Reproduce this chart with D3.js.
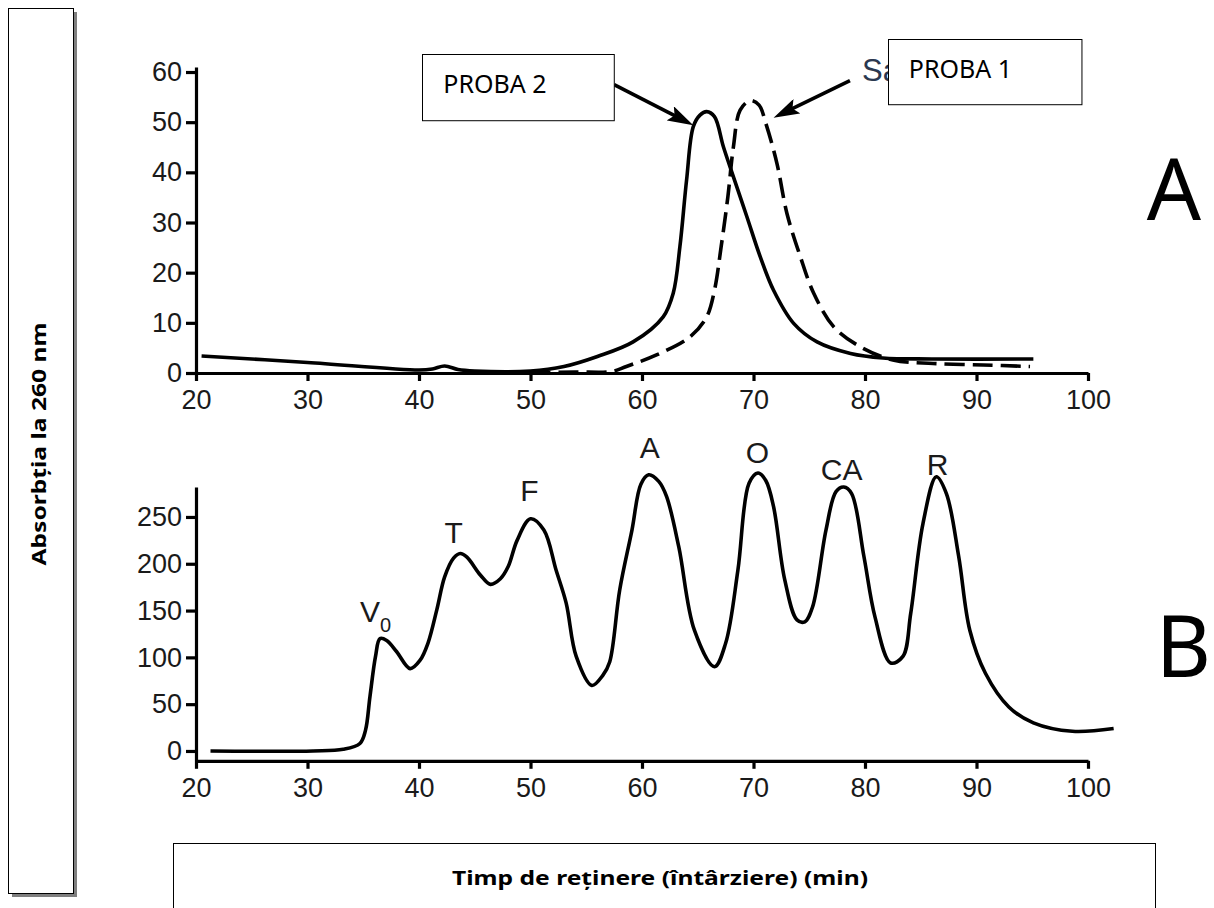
<!DOCTYPE html>
<html lang="ro">
<head>
  <meta charset="UTF-8">
  <title>Absorbția la 260 nm</title>
  <script src="https://d3js.org/d3.v7.min.js"></script>
  <style>
    body {
      margin: 0;
      background: #fff;
    }
    svg {
      display: block;
    }
    .axis path,
    .axis line {
      stroke: #000;
      stroke-width: 3.2px;
    }
    .axis text {
      font-family: "Liberation Sans", Arial, sans-serif;
      font-size: 27px;
      fill: #1a1a1a;
    }
    .curve {
      fill: none;
      stroke: #000;
      stroke-width: 3.6px;
      stroke-linejoin: round;
    }
    .peak {
      font-family: "Liberation Sans", Arial, sans-serif;
      font-size: 30px;
      fill: #1a1a1a;
    }
    .note {
      font-family: "Noto Sans", "Open Sans", sans-serif;
      font-size: 25px;
      fill: #000;
    }
    .title {
      font-family: "Noto Sans", "Open Sans", sans-serif;
      font-weight: bold;
      font-size: 20px;
      fill: #000;
    }
    .panel {
      font-family: "Noto Sans", "Open Sans", sans-serif;
      font-size: 85px;
      fill: #000;
    }
  </style>
</head>
<body>
  <script>
    // ---- data ----
    const xTicks = [20, 30, 40, 50, 60, 70, 80, 90, 100];
    const topYTicks = [0, 10, 20, 30, 40, 50, 60];
    const botYTicks = [0, 50, 100, 150, 200, 250];

    // panel A, solid line (PROBA 2)
    const proba2 = [
      [20.5, 3.4], [30, 2.1], [40, 0.6], [41.2, 0.8], [42.3, 1.4], [43.5, 0.7], [45, 0.4],
      [50, 0.4], [53, 1.3], [56, 3.3], [59.2, 6.2], [61.9, 11.2], [62.8, 15.9], [63.4, 25.2],
      [64, 38.5], [64.6, 49.1], [65.2, 51.4], [65.8, 52.1], [66.5, 51.1], [67.3, 45.1],
      [68.2, 39.1], [69.4, 31.2], [70.6, 23.2], [71.8, 16.5], [73.6, 9.9], [75.7, 6.2],
      [78.7, 3.9], [81.6, 3.0], [86, 2.8], [95.1, 2.8]
    ];

    // panel A, dashed line (PROBA 1)
    const proba1 = [
      [50, 0.1], [54, 0.2], [57.3, 0.3], [58.6, 1.3], [61.3, 3.6], [64.3, 7.2], [65.8, 11.2],
      [66.5, 16.5], [67.1, 25.2], [67.7, 35.1], [68.2, 45.1], [68.8, 52.4], [69.7, 54.3],
      [70.5, 53.4], [71.1, 49.8], [72.1, 41.8], [73, 31.8], [74.2, 23.2], [75.4, 15.9],
      [77.2, 9.2], [79.6, 5.2], [82.5, 2.6], [86.1, 1.9], [90.6, 1.6], [94.8, 1.3]
    ];

    // panel B, single trace
    const fractions = [
      [21.3, 0], [30.5, 0], [33.2, 1.8], [34.7, 8], [35.2, 22], [35.6, 58], [36.1, 101],
      [36.5, 120], [37.1, 118], [38, 106], [39.2, 88], [40.1, 97], [40.8, 115], [41.6, 151],
      [42.3, 186], [43.1, 206], [43.7, 211], [44.3, 207], [45.5, 188], [46.4, 178],
      [47.3, 184], [48, 197], [48.8, 225], [50, 248], [51.2, 236], [52.3, 193], [53.2, 158],
      [54.1, 101], [55.5, 70], [56.5, 81], [57.1, 95], [58, 172], [59.1, 236], [59.9, 285],
      [60.6, 295], [61.5, 288], [62.2, 272], [63.3, 218], [64.7, 129], [66.5, 90],
      [67.5, 115], [68.6, 193], [69.6, 286], [70.4, 297], [71.1, 289], [71.8, 261],
      [72.8, 183], [73.9, 140], [74.6, 138], [75.3, 154], [76.5, 236], [77.4, 277],
      [78.1, 282], [78.8, 275], [79.9, 208], [80.9, 143], [82.3, 94], [83.4, 101],
      [84.1, 147], [85.2, 243], [86.4, 293], [87.3, 275], [88.4, 208], [89.4, 129],
      [90.8, 83], [92.9, 47], [95.1, 30], [98.6, 21], [102.3, 24]
    ];

    const peakNames = ["V", "T", "F", "A", "O", "CA", "R"];
    const peakX = [36.1, 43.1, 49.9, 60.7, 70.35, 77.9, 86.5];
    const peakY = [138, 222, 267, 313, 308, 290, 295];

    const W = 1214, H = 908;

    const svg = d3.select("body").append("svg")
      .attr("width", W)
      .attr("height", H);

    // shared x scale, both panels line up
    const x = d3.scaleLinear().domain([20, 100]).range([196, 1088]);
    const yTop = d3.scaleLinear().domain([0, 61]).range([373, 67]);
    const yBot = d3.scaleLinear().domain([-10.5, 282]).range([760.8, 487]);

    // ---- left label box with shadow ----
    svg.append("rect").attr("x", 12).attr("y", 12).attr("width", 65).attr("height", 885)
      .attr("fill", "#7f7f7f");
    svg.append("rect").attr("x", 8.5).attr("y", 8.5).attr("width", 65).attr("height", 885)
      .attr("fill", "#fff").attr("stroke", "#000").attr("stroke-width", 1);
    svg.append("text")
      .attr("class", "title")
      .attr("transform", "translate(46,444) rotate(-90)")
      .attr("text-anchor", "middle")
      .attr("textLength", 243)
      .attr("lengthAdjust", "spacingAndGlyphs")
      .text("Absorbția la 260 nm");

    // ---- bottom label box ----
    svg.append("rect").attr("x", 173.5).attr("y", 843.5).attr("width", 982).attr("height", 80)
      .attr("fill", "#fff").attr("stroke", "#000").attr("stroke-width", 1);
    svg.append("text")
      .attr("class", "title")
      .attr("x", 660).attr("y", 885)
      .attr("text-anchor", "middle")
      .attr("textLength", 416)
      .attr("lengthAdjust", "spacingAndGlyphs")
      .text("Timp de reţinere (întârziere) (min)");

    // ---- panel A ----
    svg.append("g")
      .attr("class", "axis")
      .attr("transform", `translate(0,${yTop(0)})`)
      .call(d3.axisBottom(x).tickValues(xTicks).tickSize(8).tickSizeOuter(0).tickPadding(9));
    svg.append("g")
      .attr("class", "axis")
      .attr("transform", `translate(${x(20)},0)`)
      .call(d3.axisLeft(yTop).tickValues(topYTicks).tickSize(10).tickSizeOuter(0).tickPadding(4));

    const lineTop = d3.line()
      .x(d => x(d[0]))
      .y(d => yTop(d[1]))
      .curve(d3.curveCatmullRom.alpha(0.5));

    svg.append("path").datum(proba1).attr("class", "curve")
      .attr("stroke-dasharray", "20,8")
      .attr("d", lineTop);
    svg.append("path").datum(proba2).attr("class", "curve")
      .attr("d", lineTop);

    const defs = svg.append("defs");

    // arrowheads
    defs.append("marker")
      .attr("id", "head")
      .attr("markerUnits", "userSpaceOnUse")
      .attr("markerWidth", 26).attr("markerHeight", 16)
      .attr("refX", 16).attr("refY", 8)
      .attr("orient", "auto")
      .append("path")
      .attr("d", "M0,0 L26,8 L0,16 L5,8 Z")
      .attr("fill", "#000");

    // original caption, only "Sa" peeks out from under the PROBA 1 box
    defs.append("clipPath").attr("id", "capclip")
      .append("rect").attr("x", 850).attr("y", 40).attr("width", 38).attr("height", 60);
    svg.append("text")
      .attr("x", 862).attr("y", 81)
      .attr("clip-path", "url(#capclip)")
      .attr("font-family", "Liberation Sans, Arial, sans-serif")
      .attr("font-size", 31)
      .attr("fill", "#2b3850")
      .text("Sa");

    const notes = [
      {label: "PROBA 2", x0: 40.3, x1: 57.5, yTopV: 63.6, yBotV: 50.4, from: [57.5, 57.5], to: [64.6, 49.4]},
      {label: "PROBA 1", x0: 82.05, x1: 99.4, yTopV: 66.6, yBotV: 53.6, from: [78.65, 58.3], to: [71.8, 50.9]}
    ];

    notes.forEach(n => {
      const fx = x(n.from[0]), fy = yTop(n.from[1]);
      const tx = x(n.to[0]), ty = yTop(n.to[1]);
      const len = Math.hypot(tx - fx, ty - fy);
      // stop the shaft a bit short so the marker tip stays sharp
      const k = (len - 10) / len;
      svg.append("line")
        .attr("x1", fx).attr("y1", fy)
        .attr("x2", fx + (tx - fx) * k).attr("y2", fy + (ty - fy) * k)
        .attr("stroke", "#000").attr("stroke-width", 3.6)
        .attr("marker-end", "url(#head)");

      svg.append("rect")
        .attr("x", Math.round(x(n.x0)) + 0.5).attr("y", Math.round(yTop(n.yTopV)) + 0.5)
        .attr("width", x(n.x1) - x(n.x0)).attr("height", yTop(n.yBotV) - yTop(n.yTopV))
        .attr("fill", "#fff").attr("stroke", "#000").attr("stroke-width", 1);
      svg.append("text")
        .attr("class", "note")
        .attr("x", x(n.x0) + 21).attr("y", yTop(n.yTopV) + 39)
        .text(n.label);
    });

    svg.append("text").attr("class", "panel")
      .attr("x", 1174).attr("y", 220).attr("text-anchor", "middle")
      .text("A");

    // ---- panel B ----
    svg.append("g")
      .attr("class", "axis")
      .attr("transform", `translate(0,${yBot(-10.5)})`)
      .call(d3.axisBottom(x).tickValues(xTicks).tickSize(8).tickSizeOuter(0).tickPadding(9));
    svg.append("g")
      .attr("class", "axis")
      .attr("transform", `translate(${x(20)},0)`)
      .call(d3.axisLeft(yBot).tickValues(botYTicks).tickSize(10).tickSizeOuter(0).tickPadding(4));

    const lineBot = d3.line()
      .x(d => x(d[0]))
      .y(d => yBot(d[1]))
      .curve(d3.curveCatmullRom.alpha(0.5));

    svg.append("path").datum(fractions).attr("class", "curve")
      .attr("d", lineBot);

    peakNames.forEach((name, i) => {
      const t = svg.append("text")
        .attr("class", "peak")
        .attr("x", x(peakX[i])).attr("y", yBot(peakY[i]))
        .attr("text-anchor", "middle")
        .text(name);
      if (name === "V") {
        // V with subscript 0
        t.append("tspan").attr("font-size", 20).attr("dy", 10).text("0");
      }
    });

    svg.append("text").attr("class", "panel")
      .attr("x", 1211).attr("y", 677).attr("text-anchor", "end")
      .text("B");
  </script>
</body>
</html>
